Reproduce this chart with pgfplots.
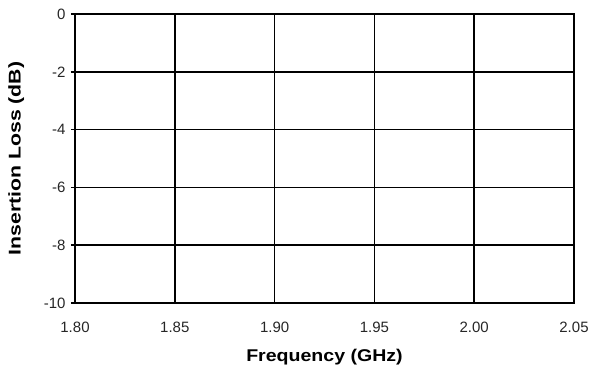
\documentclass[border=0pt]{standalone}
\usepackage{pgfplots}
\pgfplotsset{compat=1.18}
\usepackage{graphicx}
\usepackage{fontspec}
\setmainfont{Liberation Sans}
\begin{document}
\begin{tikzpicture}
\path[use as bounding box] (-75pt,-72pt) rectangle (515pt,303pt);
\begin{axis}[
  at={(0pt,0pt)}, anchor=south west,
  scale only axis, width=499pt, height=289pt,
  xmin=1.80, xmax=2.05, ymin=-10, ymax=0,
  xtick={1.80,1.85,1.90,1.95,2.00,2.05},
  ytick={-10,-8,-6,-4,-2,0},
  ytick pos=left,
  grid=major,
  major grid style={black, line width=1.6pt},
  axis line style={black, line width=1.6pt},
  tick align=outside,
  tick style={black, line width=1.6pt},
  major tick length=4pt,
  xtick style={draw=none},
  xticklabel style={/pgf/number format/fixed, /pgf/number format/fixed zerofill, /pgf/number format/precision=2, font=\fontsize{15}{17}\selectfont, yshift=-11pt, text=black!85},
  yticklabel style={font=\fontsize{15}{17}\selectfont, text=black!85, xshift=-2pt},
  /pgf/number format/assume math mode=true,
  xlabel={\scalebox{1.15}[1]{Frequency (GHz)}},
  ylabel={\scalebox{1.25}[1]{Insertion Loss (dB)}},
  xlabel style={font=\bfseries\fontsize{17}{19}\selectfont, at={(axis description cs:0.5,-0.187)}, anchor=center},
  ylabel style={font=\bfseries\fontsize{17}{19}\selectfont, at={(axis description cs:-0.118,0.5)}, anchor=center},
]
\end{axis}
\end{tikzpicture}
\end{document}
